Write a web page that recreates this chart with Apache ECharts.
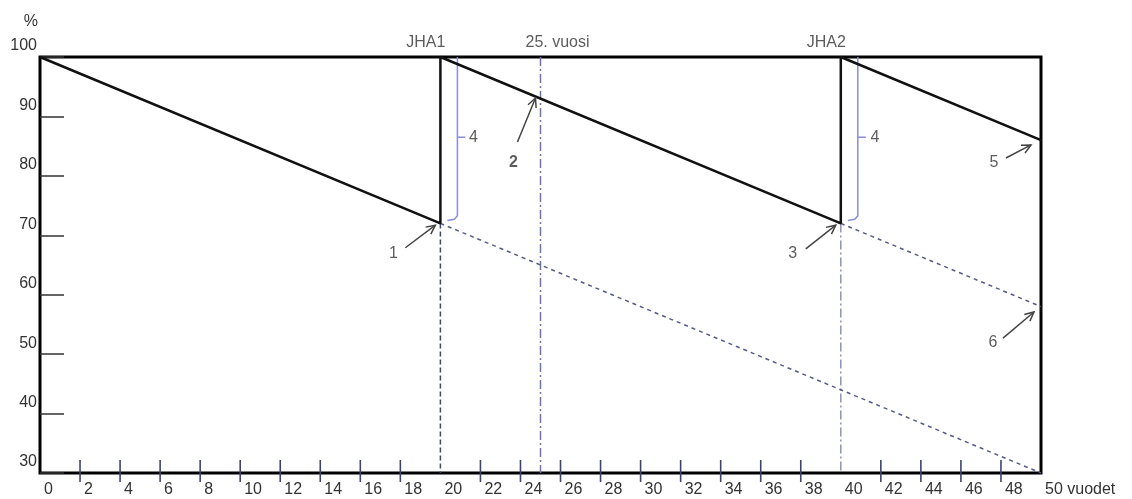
<!DOCTYPE html>
<html>
<head>
<meta charset="utf-8">
<script src="https://cdn.jsdelivr.net/npm/echarts@6/dist/echarts.min.js"></script>
<style>
html,body{margin:0;padding:0;background:#fff;}
#chart{width:1132px;height:499px;}
</style>
</head>
<body>
<div id="chart"></div>
<script>
// ---- data ----
const xTickYears = [2,4,6,8,10,12,14,16,18,22,24,26,28,30,32,34,36,38,42,44,46,48];
const valueLine = [[0,100],[20,72],[20,100],[40,72],[40,100],[50,86]];
const withoutJha1 = [[20,72],[50,30]];
const withoutJha2 = [[40,72],[50,58]];
const jha1Drop = [[20,72],[20,30]];
const jha2Drop = [[40,72],[40,30]];
const year25 = [[25,100],[25,30]];
const bracket1 = [[20.35,72.5],[20.7,72.7],[20.85,73.3],[20.85,100]];
const bracket1Tick = [[20.85,86.5],[21.25,86.5]];
const bracket2 = [[40.35,72.5],[40.7,72.7],[40.85,73.3],[40.85,100]];
const bracket2Tick = [[40.85,86.5],[41.25,86.5]];
const arrows = [
  [18.25,67.9,19.75,71.7],
  [23.85,85.7,24.75,93.1],
  [38.25,67.7,39.75,71.7],
  [48.25,83.0,49.5,85.2],
  [48.1,52.7,49.65,57.1]
];
const numberLabels = [
  [17.65,67.0,'1'],
  [23.65,82.3,'2'],
  [37.6,67.0,'3'],
  [21.65,86.5,'4'],
  [41.7,86.5,'4'],
  [47.65,82.3,'5'],
  [47.6,51.9,'6']
];
const topLabels = [[20,100,'JHA1'],[25,100,'25. vuosi'],[40,100,'JHA2']];

const FONT = "'Liberation Sans', Arial, sans-serif";
const chart = echarts.init(document.getElementById('chart'), null, {renderer:'canvas'});

function lineSeries(data, color, width, type, z){
  return {type:'line', data:data, symbol:'none', clip:false, silent:true, z:z||3,
    lineStyle:{color:color, width:width, type:type||'solid'}, animation:false};
}

const option = {
  animation:false,
  grid:{left:40, right:91, top:57, bottom:26, show:true, borderColor:'#000', borderWidth:3, backgroundColor:'transparent'},
  xAxis:{type:'value', min:0, max:50, interval:2,
    axisLine:{show:false}, axisTick:{show:false}, splitLine:{show:false},
    axisLabel:{color:'#333', fontSize:16, fontFamily:FONT, align:'left', margin:9, padding:[0,0,0,4],
      formatter:function(v){ return v===50 ? '50 vuodet' : String(v); }}
  },
  yAxis:{type:'value', min:30, max:100, interval:10,
    name:'%', nameLocation:'end', nameGap:27,
    nameTextStyle:{color:'#333', fontSize:16, fontFamily:FONT, align:'right', padding:[0,2,0,0]},
    axisLine:{show:false}, splitLine:{show:false},
    axisTick:{show:true, inside:true, length:24, lineStyle:{color:'#333', width:1.5}},
    axisLabel:{color:'#333', fontSize:16, fontFamily:FONT, margin:3, verticalAlign:'bottom', padding:[0,0,3,0]}
  },
  series:[
    lineSeries(year25, '#6d72b0', 1.5, [9,3,2,3], 2),
    lineSeries(jha1Drop, '#3f4478', 1.5, [5,3], 2),
    lineSeries(jha2Drop, '#8f92b8', 1.5, [9,3,2,3], 2),
    lineSeries(withoutJha1, '#555b88', 1.5, [4,4], 2),
    lineSeries(withoutJha2, '#555b88', 1.5, [4,4], 2),
    lineSeries(bracket1, '#8a8ed8', 1.5, 'solid', 2),
    lineSeries(bracket1Tick, '#8a8ed8', 1.5, 'solid', 2),
    lineSeries(bracket2, '#8a8ed8', 1.5, 'solid', 2),
    lineSeries(bracket2Tick, '#8a8ed8', 1.5, 'solid', 2),
    lineSeries(valueLine, '#111', 2.5, 'solid', 5),
    {type:'custom', data:xTickYears.map(function(v){return [v];}), encode:{x:0}, silent:true, z:6,
      renderItem:function(params, api){
        const p = api.coord([api.value(0), 30]);
        return {type:'line', shape:{x1:p[0], y1:p[1]-13, x2:p[0], y2:p[1]+9},
          style:{stroke:'#3d4275', lineWidth:1.6}};
      }},
    {type:'custom', data:arrows, encode:{x:[0,2], y:[1,3]}, silent:true, z:6,
      renderItem:function(params, api){
        const a = api.coord([api.value(0), api.value(1)]);
        const b = api.coord([api.value(2), api.value(3)]);
        const ang = Math.atan2(b[1]-a[1], b[0]-a[0]);
        const L = 10, w = 0.45;
        const h1 = [b[0]-L*Math.cos(ang-w), b[1]-L*Math.sin(ang-w)];
        const h2 = [b[0]-L*Math.cos(ang+w), b[1]-L*Math.sin(ang+w)];
        return {type:'group', children:[
          {type:'line', shape:{x1:a[0], y1:a[1], x2:b[0], y2:b[1]}, style:{stroke:'#444', lineWidth:1.5}},
          {type:'polyline', shape:{points:[h1, b, h2]}, style:{stroke:'#444', fill:null, lineWidth:1.5}}
        ]};
      }},
    {type:'scatter', clip:false, silent:true, symbolSize:0, z:7,
      data:numberLabels.map(function(d){
        return {value:[d[0], d[1]], label:{show:true, formatter:d[2], position:'inside',
          color:'#333', fontSize:16, fontFamily:FONT, fontWeight: d[2]==='2' ? 'bold' : 'normal'}};
      })},
    {type:'scatter', clip:false, silent:true, symbolSize:0, z:7,
      data:topLabels.map(function(d){
        const left = d[2].indexOf('vuosi') >= 0;
        return {value:[d[0], d[1]], label:{show:true, formatter:d[2], position:'inside',
          align: left ? 'left' : 'right', verticalAlign:'middle',
          offset: left ? [-15,-14] : [5,-14],
          color:'#333', fontSize:16, fontFamily:FONT}};
      })}
  ]
};
chart.setOption(option);
</script>
</body>
</html>
